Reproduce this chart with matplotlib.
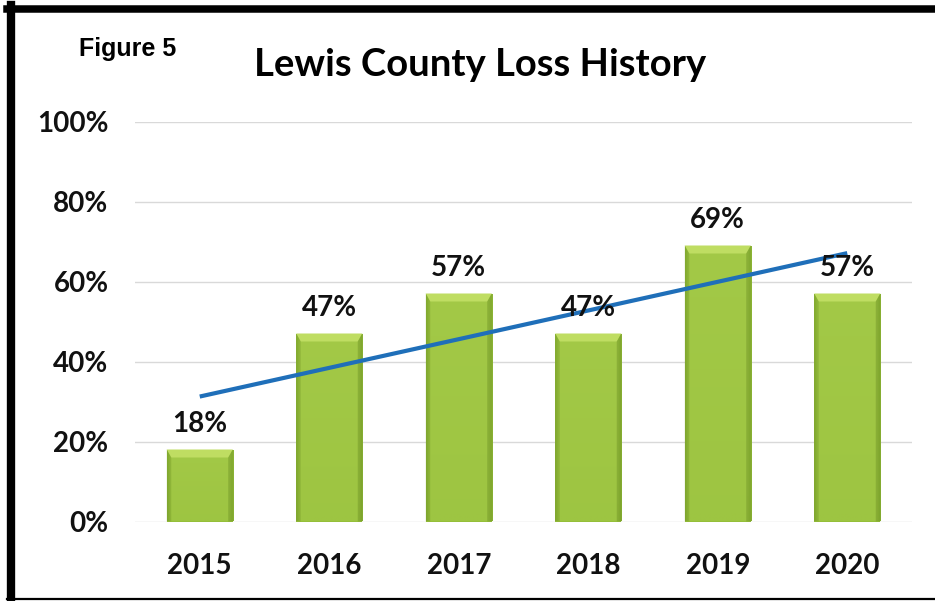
"""
Lewis County loss history: bar chart per year with a linear trend line.
"""

import matplotlib

matplotlib.use("Agg")
import matplotlib.pyplot as plt
import numpy as np
from matplotlib.colors import LinearSegmentedColormap
from matplotlib.lines import Line2D

# --- Data ---
YEARS = ["2015", "2016", "2017", "2018", "2019", "2020"]
LOSS_PCT = [18, 47, 57, 47, 69, 57]
Y_TICKS = [0, 20, 40, 60, 80, 100]

TITLE = "Lewis County Loss History"
FIG_LABEL = "Figure 5"

BAR_WIDTH = 0.51
GREEN_DARK = "#6f9226"
GREEN_MID = "#95bf3a"
GREEN_LIGHT = "#bfdd62"
TREND_BLUE = "#1f6fb9"
GRID_GRAY = "#d9d9d9"

FONT = "Lato"


def bar_shading(n=120):
    """Bevel-like shading: darker sides and bottom, light band on top."""
    cmap = LinearSegmentedColormap.from_list("bar", [GREEN_DARK, GREEN_MID, GREEN_LIGHT])
    xs = np.linspace(0, 1, n)
    ys = np.linspace(0, 1, n)
    X, Y = np.meshgrid(xs, ys)
    side = np.clip(np.minimum(X, 1 - X) / 0.06, 0, 1)
    val = 0.3 + 0.3 * side + 0.06 * Y
    return cmap(val)


def main():
    fig = plt.figure(figsize=(9.35, 6.01), dpi=100)
    ax = fig.add_axes([135 / 935, 79.5 / 601, 777 / 935, 400 / 601])

    x = np.arange(len(YEARS))
    bars = ax.bar(x, LOSS_PCT, width=BAR_WIDTH, color=GREEN_MID, zorder=2,
                  edgecolor="none")

    # gradient fill + light top bevel on each bar
    shade = bar_shading()
    px_per_unit_y = 400 / 100
    for rect, val in zip(bars, LOSS_PCT):
        x0, w = rect.get_x(), rect.get_width()
        im = ax.imshow(shade, extent=(x0, x0 + w, 0, val), origin="lower",
                       aspect="auto", zorder=2.1, interpolation="bilinear")
        im.set_clip_path(rect)
        bevel = 8 / px_per_unit_y
        inset = 0.035
        ax.fill([x0, x0 + w, x0 + w - inset, x0 + inset],
                [val, val, val - bevel, val - bevel],
                color=GREEN_LIGHT, zorder=2.2, linewidth=0)
        ax.fill([x0, x0 + inset, x0 + inset, x0],
                [val, val - bevel, 0, 0],
                color=GREEN_DARK, alpha=0.3, zorder=2.2, linewidth=0)
        ax.fill([x0 + w, x0 + w - inset, x0 + w - inset, x0 + w],
                [val, val - bevel, 0, 0],
                color=GREEN_DARK, alpha=0.45, zorder=2.2, linewidth=0)

    # value labels
    for xi, val in zip(x, LOSS_PCT):
        ax.annotate(f"{val}%", (xi, val), xytext=(0, 9), textcoords="offset points",
                    ha="center", va="bottom", fontsize=20, fontweight="bold",
                    family=FONT, color="#111111", zorder=4)

    # linear trend line (least squares over the bar values)
    slope, intercept = np.polyfit(x, LOSS_PCT, 1)
    ax.plot([x[0], x[-1]], [intercept + slope * x[0], intercept + slope * x[-1]],
            color=TREND_BLUE, linewidth=3, zorder=3, solid_capstyle="butt")

    ax.set_xlim(-0.5, len(YEARS) - 0.5)
    ax.set_ylim(0, 100)
    ax.set_yticks(Y_TICKS)
    ax.set_yticklabels([f"{t}%" for t in Y_TICKS])
    ax.set_xticks(x)
    ax.set_xticklabels(YEARS)
    for lbl in ax.get_xticklabels() + ax.get_yticklabels():
        lbl.set_fontfamily(FONT)
        lbl.set_fontweight("bold")
        lbl.set_fontsize(20)
        lbl.set_color("#111111")
    ax.tick_params(axis="both", length=0)
    ax.tick_params(axis="x", pad=23)
    ax.tick_params(axis="y", pad=19)

    ax.grid(axis="y", color=GRID_GRAY, linewidth=1, zorder=0)
    ax.set_axisbelow(True)
    for s in ax.spines.values():
        s.set_visible(False)

    # titles
    fig.text(480 / 935, 1 - 65 / 601, TITLE, ha="center", va="center",
             fontsize=27.5, fontweight="bold", family=FONT, color="#000000")
    fig.text(128 / 935, 1 - 49 / 601, FIG_LABEL, ha="center", va="center",
             fontsize=18, fontweight="bold", family="Liberation Sans", color="#000000")

    # black frame (top, left, bottom)
    fig.add_artist(Line2D([7 / 935, 1], [1 - 8.5 / 601] * 2, color="black",
                          linewidth=5.4, transform=fig.transFigure))
    fig.add_artist(Line2D([11 / 935] * 2, [1 - 5 / 601, 0], color="black",
                          linewidth=6, transform=fig.transFigure))
    fig.add_artist(Line2D([7 / 935, 1], [2 / 601] * 2, color="black",
                          linewidth=1.6, transform=fig.transFigure))

    fig.savefig("out.png", dpi=100)


if __name__ == "__main__":
    main()
